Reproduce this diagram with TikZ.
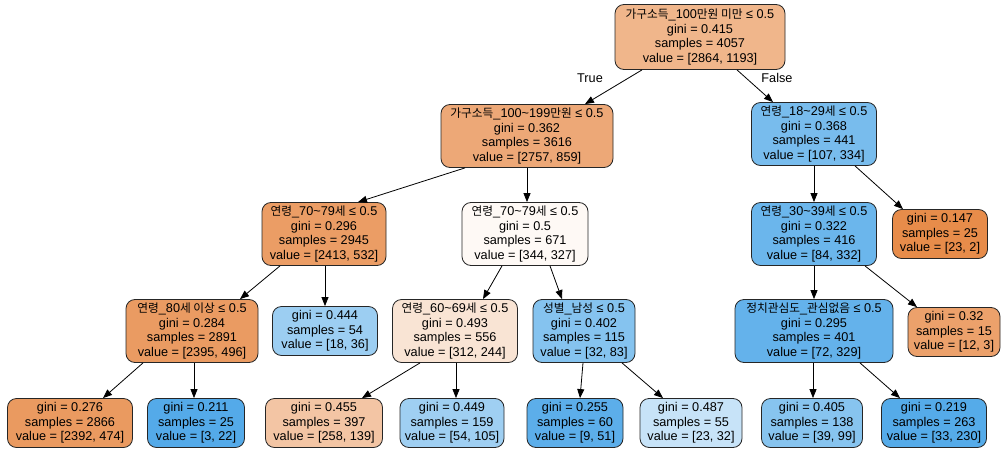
\documentclass[tikz,border=0pt]{standalone}
\usepackage{fontspec}
\setmainfont{Liberation Sans}
\newfontfamily\kofont[Scale=0.92]{Noto Sans CJK KR}
\newcommand{\ko}[1]{{\kofont #1}}
\newcommand{\tl}{\textasciitilde}
\usetikzlibrary{arrows.meta}

% node fills: class colour blended with white by purity
\definecolor{cRoot}{RGB}{240,182,139}
\definecolor{cA}{RGB}{237,168,119}
\definecolor{cB}{RGB}{120,188,237}
\definecolor{cC}{RGB}{235,157,101}
\definecolor{cD}{RGB}{254,249,245}
\definecolor{cE}{RGB}{107,182,236}
\definecolor{cF}{RGB}{231,140,74}
\definecolor{cG}{RGB}{234,155,98}
\definecolor{cH}{RGB}{156,206,242}
\definecolor{cI}{RGB}{249,228,212}
\definecolor{cJ}{RGB}{133,195,239}
\definecolor{cK}{RGB}{100,178,235}
\definecolor{cL}{RGB}{236,161,107}
\definecolor{cM}{RGB}{234,154,96}
\definecolor{cN}{RGB}{84,170,233}
\definecolor{cO}{RGB}{243,197,164}
\definecolor{cP}{RGB}{159,207,242}
\definecolor{cQ}{RGB}{92,174,234}
\definecolor{cR}{RGB}{199,227,248}
\definecolor{cS}{RGB}{135,196,239}
\definecolor{cT}{RGB}{85,171,233}

\tikzset{
  tn/.style={draw=black!85, line width=0.8pt, rounded corners=9pt,
    inner sep=0pt, align=center,
    font=\fontsize{12.7}{14.7}\selectfont},
  big/.style={minimum height=63pt},
  small/.style={minimum height=49pt},
  edge/.style={draw=black, line width=0.8pt, -{Triangle[length=9pt,width=7pt]}},
  elabel/.style={font=\fontsize{12.7}{14.7}\selectfont}
}

\begin{document}
\begin{tikzpicture}[x=1pt, y=-1pt]
\fill[white] (0,0) rectangle (1002,450);
\useasboundingbox (0,0) rectangle (1002,450);

% level 0
\node[tn, big, fill=cRoot, minimum width=170pt, minimum height=65pt] (root) at (700,37)
  {\ko{가구소득}\_100\ko{만원 미만} ≤ 0.5\\gini = 0.415\\samples = 4057\\value = [2864, 1193]};

% level 1
\node[tn, big, fill=cA, minimum width=172pt] (A) at (527,136)
  {\ko{가구소득}\_100\tl199\ko{만원} ≤ 0.5\\gini = 0.362\\samples = 3616\\value = [2757, 859]};
\node[tn, big, fill=cB, minimum width=125pt] (B) at (814,134)
  {\ko{연령}\_18\tl29\ko{세} ≤ 0.5\\gini = 0.368\\samples = 441\\value = [107, 334]};

% level 2
\node[tn, big, fill=cC, minimum width=124pt] (C) at (324,234)
  {\ko{연령}\_70\tl79\ko{세} ≤ 0.5\\gini = 0.296\\samples = 2945\\value = [2413, 532]};
\node[tn, big, fill=cD, minimum width=126pt] (D) at (525,234)
  {\ko{연령}\_70\tl79\ko{세} ≤ 0.5\\gini = 0.5\\samples = 671\\value = [344, 327]};
\node[tn, big, fill=cE, minimum width=125pt] (E) at (814,234)
  {\ko{연령}\_30\tl39\ko{세} ≤ 0.5\\gini = 0.322\\samples = 416\\value = [84, 332]};
\node[tn, small, fill=cF, minimum width=95pt] (F) at (940,234)
  {gini = 0.147\\samples = 25\\value = [23, 2]};

% level 3
\node[tn, big, fill=cG, minimum width=132pt] (G) at (192,331)
  {\ko{연령}\_80\ko{세 이상} ≤ 0.5\\gini = 0.284\\samples = 2891\\value = [2395, 496]};
\node[tn, small, fill=cH, minimum width=105pt] (H) at (325,331)
  {gini = 0.444\\samples = 54\\value = [18, 36]};
\node[tn, big, fill=cI, minimum width=125pt] (I) at (455,331)
  {\ko{연령}\_60\tl69\ko{세} ≤ 0.5\\gini = 0.493\\samples = 556\\value = [312, 244]};
\node[tn, big, fill=cJ, minimum width=102pt] (J) at (584,331)
  {\ko{성별}\_\ko{남성} ≤ 0.5\\gini = 0.402\\samples = 115\\value = [32, 83]};
\node[tn, big, fill=cK, minimum width=158pt] (K) at (814,331)
  {\ko{정치관심도}\_\ko{관심없음} ≤ 0.5\\gini = 0.295\\samples = 401\\value = [72, 329]};
\node[tn, small, fill=cL, minimum width=92pt] (L) at (954,332)
  {gini = 0.32\\samples = 15\\value = [12, 3]};

% level 4
\node[tn, small, fill=cM, minimum width=125pt] (M) at (70,423)
  {gini = 0.276\\samples = 2866\\value = [2392, 474]};
\node[tn, small, fill=cN, minimum width=97pt] (N) at (196,423)
  {gini = 0.211\\samples = 25\\value = [3, 22]};
\node[tn, small, fill=cO, minimum width=117pt] (O) at (324,423)
  {gini = 0.455\\samples = 397\\value = [258, 139]};
\node[tn, small, fill=cP, minimum width=104pt] (P) at (452,423)
  {gini = 0.449\\samples = 159\\value = [54, 105]};
\node[tn, small, fill=cQ, minimum width=96pt] (Q) at (575,423)
  {gini = 0.255\\samples = 60\\value = [9, 51]};
\node[tn, small, fill=cR, minimum width=102pt] (R) at (691,423)
  {gini = 0.487\\samples = 55\\value = [23, 32]};
\node[tn, small, fill=cS, minimum width=101pt] (S) at (812,423)
  {gini = 0.405\\samples = 138\\value = [39, 99]};
\node[tn, small, fill=cT, minimum width=105pt] (T) at (934,423)
  {gini = 0.219\\samples = 263\\value = [33, 230]};

% branch labels
\node[elabel] (lt) at (590,78) {True};
\node[elabel] (lf) at (777,78) {False};

% edges
\draw[edge] ([xshift=-58pt]root.south) -- ([xshift=58pt]A.north);
\draw[edge] ([xshift=37pt]root.south) -- ([xshift=-41pt]B.north);
\draw[edge] ([xshift=-62pt]A.south) -- ([xshift=34pt]C.north);
\draw[edge] (A.south) -- ([xshift=2pt]D.north);
\draw[edge] (B.south) -- (E.north);
\draw[edge] ([xshift=41pt]B.south) -- ([xshift=-37pt]F.north);
\draw[edge] ([xshift=-44pt]C.south) -- ([xshift=48pt]G.north);
\draw[edge] ([xshift=1pt]C.south) -- (H.north);
\draw[edge] ([xshift=-23pt]D.south) -- ([xshift=28pt]I.north);
\draw[edge] ([xshift=25pt]D.south) -- ([xshift=-22pt]J.north);
\draw[edge] (E.south) -- (K.north);
\draw[edge] ([xshift=51pt]E.south) -- ([xshift=-37pt]L.north);
\draw[edge] ([xshift=-49pt]G.south) -- ([xshift=33pt]M.north);
\draw[edge] ([xshift=2pt]G.south) -- ([xshift=-2pt]N.north);
\draw[edge] ([xshift=1pt]I.south) -- ([xshift=4pt]P.north);
\draw[edge] ([xshift=-35pt]I.south) -- ([xshift=38pt]O.north);
\draw[edge] ([xshift=-1pt]J.south) -- ([xshift=5pt]Q.north);
\draw[edge] ([xshift=38pt]J.south) -- ([xshift=-28pt]R.north);
\draw[edge] ([xshift=-1pt]K.south) -- ([xshift=1pt]S.north);
\draw[edge] ([xshift=46pt]K.south) -- ([xshift=-34pt]T.north);
\end{tikzpicture}
\end{document}
